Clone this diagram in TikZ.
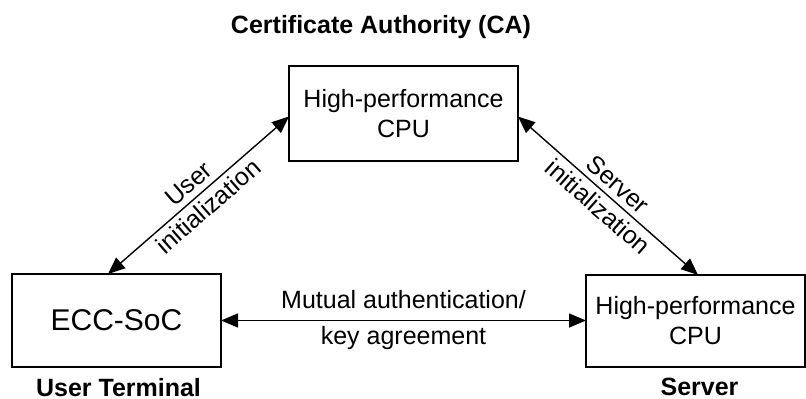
\documentclass[tikz,border=0pt]{standalone}
\usepackage{fontspec}
\setmainfont{Liberation Sans}
\usetikzlibrary{positioning,arrows.meta,calc}
\tikzset{
  unit/.style={draw=black, line width=1.1pt, align=center, inner sep=2pt, outer sep=0pt,
               font=\fontsize{12.5}{15}\selectfont},
  role/.style={font=\fontsize{12.5}{15}\selectfont\bfseries, inner sep=0pt},
  link/.style={{Triangle[length=8.5pt,width=7pt]}-{Triangle[length=8.5pt,width=7pt]}, line width=0.7pt},
  lbl/.style={font=\fontsize{12.5}{15}\selectfont, align=center},
}

\begin{document}
\begin{tikzpicture}
  \useasboundingbox (0,0) rectangle (403pt,-199.5pt);

  \node[unit, minimum width=114.5pt, minimum height=47.5pt] (ca) at (201.75pt,-56.75pt)
    {High-performance\\CPU};
  \node[unit, below left=56.5pt and 34pt of ca, minimum width=104.5pt, minimum height=46.5pt,
        font=\fontsize{15}{18}\selectfont] (soc) {ECC-SoC};
  \node[unit, below right=57pt and 34pt of ca, minimum width=109.5pt, minimum height=46pt] (srv)
    {High-performance\\CPU};

  % who is who
  \node[role, above=16.3pt of ca, anchor=base, xshift=-11.25pt] (catitle) {Certificate Authority (CA)};
  \node[role, below=14.8pt of soc, anchor=base, xshift=1pt] (soctitle) {User Terminal};
  \node[role, below=14pt of srv, anchor=base, xshift=2pt] (srvtitle) {Server};

  % links
  \draw[link] ($(soc.north)+(-4.25pt,0)$) -- ($(ca.west)+(0,-1.5pt)$)
      node[midway, sloped, lbl] {User\\initialization};
  \draw[link] ($(ca.east)+(0,-1.5pt)$) -- ($(srv.north)+(1.25pt,0)$)
      node[midway, sloped, lbl] {Server\\initialization};
  \draw[link] (soc.east) -- (soc.east -| srv.west)
      node[midway, lbl] {Mutual authentication/\\[3pt]key agreement};
\end{tikzpicture}
\end{document}
